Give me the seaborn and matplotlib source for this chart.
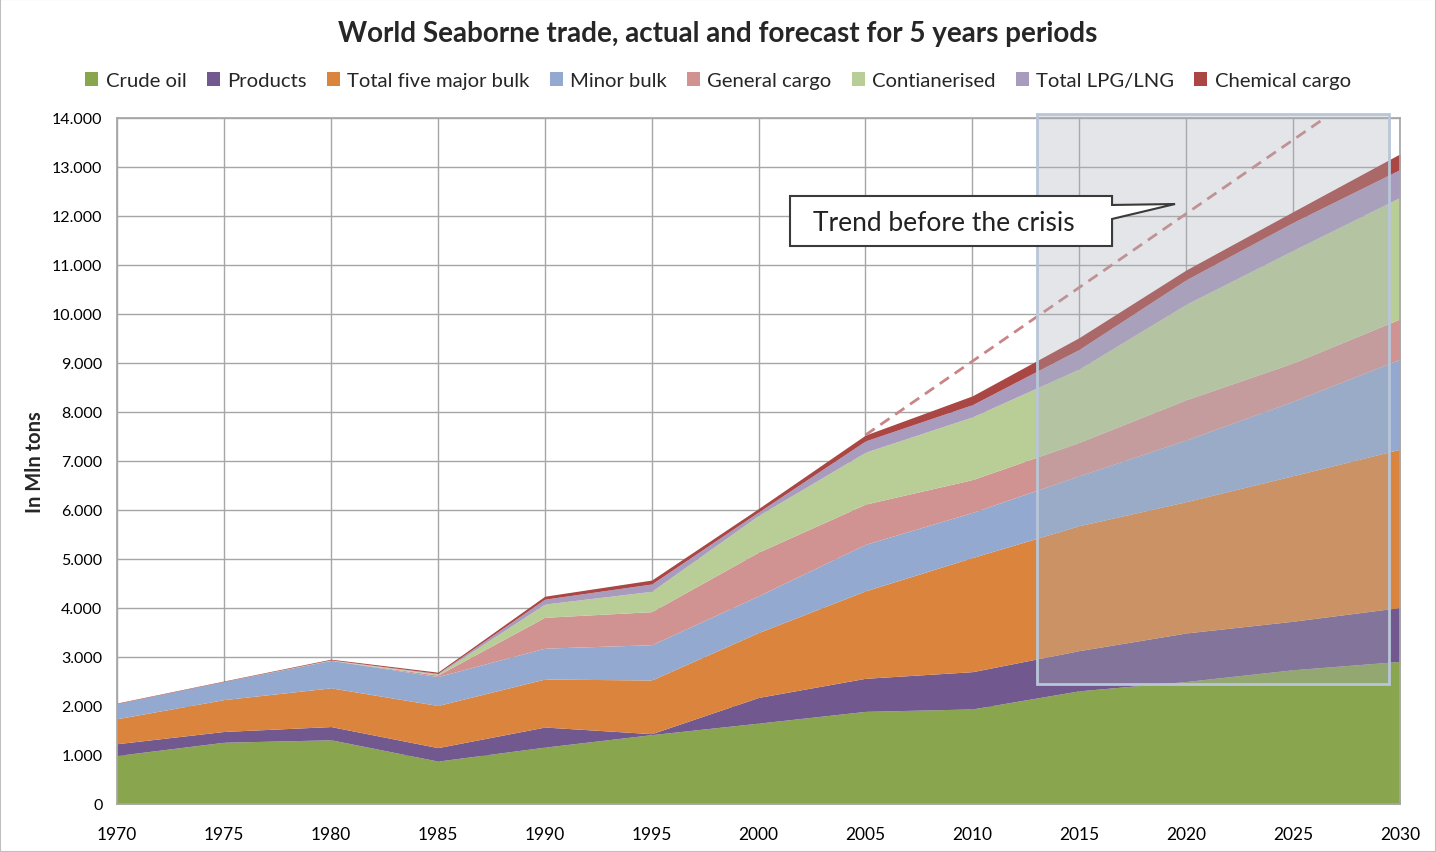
import matplotlib
matplotlib.use("Agg")
import matplotlib.pyplot as plt
import matplotlib.ticker as mticker
from matplotlib.patches import Rectangle, Polygon, Patch
import seaborn as sns
import pandas as pd

# values in Mln tons (5-year steps)
years = [1970, 1975, 1980, 1985, 1990, 1995, 2000, 2005, 2010, 2015, 2020, 2025, 2030]
crude_oil = [990, 1260, 1310, 875, 1160, 1415, 1650, 1890, 1940, 2310, 2500, 2740, 2910]
products = [240, 220, 270, 275, 410, 20, 525, 675, 760, 820, 990, 990, 1100]
five_major_bulk = [510, 650, 790, 860, 980, 1095, 1325, 1785, 2330, 2550, 2680, 2970, 3230]
minor_bulk = [310, 370, 560, 590, 630, 720, 750, 950, 920, 1020, 1260, 1520, 1840]
general_cargo = [0, 0, 0, 30, 630, 675, 890, 820, 670, 680, 820, 780, 820]
containerised = [0, 0, 5, 20, 270, 415, 750, 1060, 1280, 1500, 1950, 2300, 2480]
lpg_lng = [0, 0, 5, 15, 100, 150, 70, 230, 250, 400, 500, 570, 570]
chemical_cargo = [10, 10, 15, 25, 60, 80, 70, 120, 180, 240, 200, 220, 320]

series_names = ["Crude oil", "Products", "Total five major bulk", "Minor bulk",
                "General cargo", "Contianerised", "Total LPG/LNG", "Chemical cargo"]
colors = ["#89a54e", "#71588f", "#db843d", "#93a9cf",
          "#d19392", "#b9cd96", "#a99bbd", "#aa4643"]

# pre-crisis trend line
trend_years = [2005, 2030]
trend_values = [7530, 15060]

# shaded forecast window
forecast_x = [2013, 2029.5]
forecast_y = [2450, 14080]

sns.set_theme(style="whitegrid")
plt.rcParams["font.family"] = ["Lato", "DejaVu Sans"]

fig = plt.figure(figsize=(14.36, 8.53), dpi=100)
ax = fig.add_axes([0.0815, 0.0563, 0.8935, 0.8042])

ax.stackplot(years, crude_oil, products, five_major_bulk, minor_bulk,
             general_cargo, containerised, lpg_lng, chemical_cargo,
             colors=colors, labels=series_names, linewidth=0, zorder=2)

trend = pd.DataFrame({"year": trend_years, "value": trend_values})
sns.lineplot(data=trend, x="year", y="value", ax=ax, color="#c98585",
             linestyle=(0, (4, 2.5)), linewidth=2, legend=False, zorder=3)

ax.add_patch(Rectangle((forecast_x[0], forecast_y[0]),
                       forecast_x[1] - forecast_x[0], forecast_y[1] - forecast_y[0],
                       facecolor=(0.67, 0.69, 0.73, 0.32), edgecolor="#b9c6d8",
                       linewidth=2, clip_on=False, zorder=4))

# callout box
callout = [(0.5245, 0.8863), (0.7755, 0.8863), (0.7755, 0.8732), (0.8246, 0.8746),
           (0.7755, 0.8528), (0.7755, 0.8134), (0.5245, 0.8134)]
ax.add_patch(Polygon(callout, closed=True, transform=ax.transAxes,
                     facecolor="white", edgecolor="#3a3a3a", linewidth=1.5, zorder=6))
ax.text(0.6445, 0.848, "Trend before the crisis", transform=ax.transAxes,
        ha="center", va="center", fontsize=19, color="#222222", zorder=7)

ax.set_xlim(1970, 2030)
ax.set_ylim(0, 14000)
ax.set_xticks(years)
ax.set_yticks(range(0, 14001, 1000))
ax.yaxis.set_major_formatter(mticker.FuncFormatter(lambda v, p: f"{int(v):,}".replace(",", ".")))
ax.tick_params(axis="x", labelsize=12.5, pad=10, colors="black")
ax.tick_params(axis="y", labelsize=11.5, pad=4.5, colors="black")
ax.grid(True, color="#a6a6a6", linewidth=1)
ax.set_axisbelow(True)
for s in ax.spines.values():
    s.set_color("#a6a6a6")
ax.set_xlabel("")
ax.set_ylabel("In Mln tons", fontsize=14.5, fontweight="bold")
ax.yaxis.set_label_coords(-0.056, 0.5)

handles = [Patch(facecolor=c, edgecolor="none") for c in colors]
fig.legend(handles, series_names, loc="center", bbox_to_anchor=(0.5, 0.904),
           ncol=8, frameon=False, fontsize=14.6, handlelength=0.65, handleheight=0.65,
           handletextpad=0.35, columnspacing=1.0)

fig.text(0.5, 0.960, "World Seaborne trade, actual and forecast for 5 years periods",
         ha="center", va="center", fontsize=20, fontweight="bold")

fig.patches.append(Rectangle((0, 0), 1, 1, transform=fig.transFigure, fill=False,
                             edgecolor="#bfbfbf", linewidth=1.5))

fig.savefig("out.png", dpi=100, facecolor="white")
